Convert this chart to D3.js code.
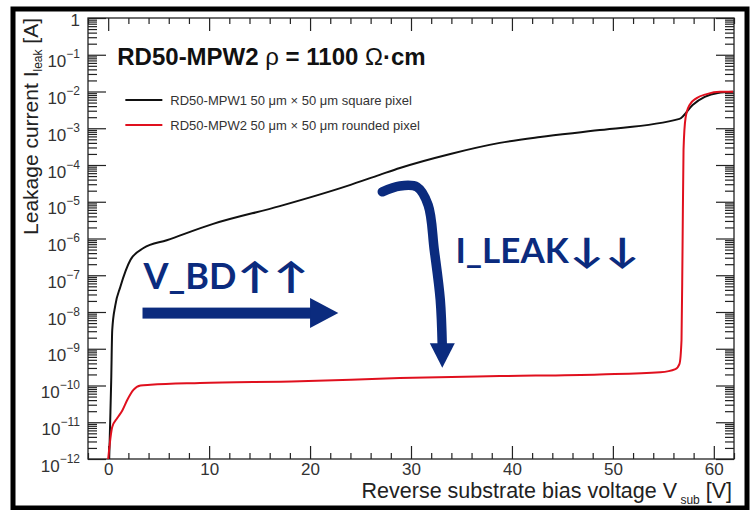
<!DOCTYPE html>
<html>
<head>
<meta charset="utf-8">
<script src="https://cdn.jsdelivr.net/npm/d3@7"></script>
<style>
  body { margin: 0; background: #fff; }
  svg { display: block; font-family: "Liberation Sans", Arial, sans-serif; }
</style>
</head>
<body>
<script>
// leakage current vs bias voltage
var mpw1Voltage = [0.1, 0.2, 0.3, 0.4, 0.7, 1.2, 2.2, 3.5, 5.8, 10.4, 17.0, 23.7, 26.9, 28.9, 33.9, 38.8, 42.8, 48.7, 56.6, 57.9, 59.1, 60.4, 61.9];
var mpw1Current = [1e-12, 1.1e-11, 1.4e-10, 3.2e-9, 1.5e-8, 4.8e-8, 2.6e-7, 5.5e-7, 9e-7, 2.5e-6, 7.6e-6, 2.7e-5, 5.4e-5, 8.3e-5, 2.0e-4, 4.0e-4, 5.8e-4, 8.9e-4, 1.8e-3, 4.3e-3, 7.1e-3, 9.1e-3, 9.8e-3];

var mpw2Voltage = [0.0, 0.4, 0.9, 1.4, 1.9, 2.5, 3.2, 4.2, 9.1, 19.0, 28.9, 38.8, 48.7, 54.7, 56.2, 56.6, 56.8, 56.9, 57.0, 57.2, 57.6, 58.3, 59.3, 60.6, 61.9];
var mpw2Current = [1e-12, 7.4e-12, 1.3e-11, 2.1e-11, 4.1e-11, 7.6e-11, 1.0e-10, 1.05e-10, 1.17e-10, 1.3e-10, 1.6e-10, 1.8e-10, 2.0e-10, 2.3e-10, 2.8e-10, 3.9e-10, 1.7e-9, 4.9e-7, 2.6e-4, 1.9e-3, 4.3e-3, 6.6e-3, 8.5e-3, 9.8e-3, 9.8e-3];

var seriesNames = ["RD50-MPW1 50 \u03bcm \u00d7 50 \u03bcm square pixel", "RD50-MPW2 50 \u03bcm \u00d7 50 \u03bcm rounded pixel"];
var seriesColors = ["#111", "#e0101e"];

var xTicks = [0, 10, 20, 30, 40, 50, 60];
var yTickExponents = [-12, -11, -10, -9, -8, -7, -6, -5, -4, -3, -2, -1, 0];

var svgWidth = 753;
var svgHeight = 510;
var margin = { top: 18, right: 19, bottom: 51, left: 88 };
var width = svgWidth - margin.left - margin.right;
var height = svgHeight - margin.top - margin.bottom;

var annoColor = "#0b2b7e";

var svg = d3.select("body").append("svg")
    .attr("width", svgWidth)
    .attr("height", svgHeight);

// outer black frame of the slide picture
svg.append("rect")
    .attr("x", 13).attr("y", 9)
    .attr("width", 734).attr("height", 499)
    .attr("fill", "none")
    .attr("stroke", "#000")
    .attr("stroke-width", 5);

var g = svg.append("g")
    .attr("transform", `translate(${margin.left},${margin.top})`);

var x = d3.scaleLinear().domain([-2, 62]).range([0, width]);
var y = d3.scaleLog().domain([1e-12, 1]).range([height, 0]);

var yMajor = yTickExponents.map(e => Math.pow(10, e));
var yMinor = [];
yTickExponents.slice(0, -1).forEach(function (e) {
    for (var k = 2; k <= 9; k++) yMinor.push(k * Math.pow(10, e));
});
var xMinor = d3.range(-2, 63, 2).filter(v => v % 10 !== 0);

function styleAxis(sel) {
    sel.select(".domain").remove();
    sel.selectAll("line").attr("stroke", "#222").attr("stroke-width", 1.2);
}

// bottom axis
g.append("g")
    .attr("transform", `translate(0,${height})`)
    .call(d3.axisBottom(x).tickValues(xMinor).tickSize(-6).tickFormat(""))
    .call(styleAxis);
g.append("g")
    .attr("transform", `translate(0,${height})`)
    .call(d3.axisBottom(x).tickValues(xTicks).tickSize(-13).tickPadding(4))
    .call(styleAxis)
    .call(s => s.selectAll("text")
        .attr("font-size", 17)
        .attr("fill", "#333")
        .attr("font-family", "Liberation Sans, Arial, sans-serif"));

// top axis (mirrored ticks)
g.append("g")
    .call(d3.axisTop(x).tickValues(xMinor).tickSize(-6).tickFormat(""))
    .call(styleAxis);
g.append("g")
    .call(d3.axisTop(x).tickValues(xTicks).tickSize(-13).tickFormat(""))
    .call(styleAxis);

// left axis
g.append("g")
    .call(d3.axisLeft(y).tickValues(yMinor).tickSize(-9).tickFormat(""))
    .call(styleAxis);
g.append("g")
    .call(d3.axisLeft(y).tickValues(yMajor).tickSize(-18).tickPadding(8).tickFormat(""))
    .call(styleAxis)
    .call(function (s) {
        s.selectAll(".tick").append("text")
            .attr("x", -8)
            .attr("text-anchor", "end")
            .attr("fill", "#333")
            .attr("font-family", "Liberation Sans, Arial, sans-serif")
            .each(function (d) {
                var t = d3.select(this);
                var e = Math.round(Math.log10(d));
                if (e === 0) {
                    t.attr("dy", 7).attr("font-size", 17).text("1");
                } else {
                    t.attr("dy", 12);
                    t.append("tspan").attr("font-size", 17).text("10");
                    t.append("tspan").attr("font-size", 12).attr("dy", -9).text("\u2212" + Math.abs(e));
                }
            });
    });

// right axis (mirrored ticks)
g.append("g")
    .attr("transform", `translate(${width},0)`)
    .call(d3.axisRight(y).tickValues(yMinor).tickSize(-9).tickFormat(""))
    .call(styleAxis);
g.append("g")
    .attr("transform", `translate(${width},0)`)
    .call(d3.axisRight(y).tickValues(yMajor).tickSize(-18).tickFormat(""))
    .call(styleAxis);

// plot frame
g.append("rect")
    .attr("width", width).attr("height", height)
    .attr("fill", "none")
    .attr("stroke", "#222")
    .attr("stroke-width", 1.3);

// curves
g.append("clipPath").attr("id", "plotclip")
    .append("rect").attr("width", width).attr("height", height);

var line = d3.line()
    .x(d => x(d[0]))
    .y(d => y(d[1]))
    .curve(d3.curveMonotoneX);

var series = [
    d3.zip(mpw1Voltage, mpw1Current),
    d3.zip(mpw2Voltage, mpw2Current)
];

g.selectAll(".curve")
    .data(series)
    .enter()
    .append("path")
    .attr("class", "curve")
    .attr("clip-path", "url(#plotclip)")
    .attr("d", line)
    .attr("fill", "none")
    .attr("stroke", (d, i) => seriesColors[i])
    .attr("stroke-width", 2);

// title
var title = g.append("text")
    .attr("x", x(0.9))
    .attr("y", 47)
    .attr("font-size", 24)
    .attr("font-weight", "bold")
    .attr("fill", "#111");
title.append("tspan").text("RD50-MPW2 ");
title.append("tspan").attr("font-weight", "normal").text("\u03c1");
title.append("tspan").text(" = 1100 ");
title.append("tspan").attr("font-weight", "normal").text(" \u03a9");
title.append("tspan").text("\u00b7cm");

// legend
var legend = g.selectAll(".legend")
    .data(seriesNames)
    .enter()
    .append("g")
    .attr("class", "legend")
    .attr("transform", (d, i) => `translate(${x(1.7)},${82 + i * 25})`);
legend.append("line")
    .attr("x1", 0).attr("x2", 37)
    .attr("stroke", (d, i) => seriesColors[i])
    .attr("stroke-width", 2);
legend.append("text")
    .attr("x", 45).attr("dy", "0.35em")
    .attr("font-size", 13)
    .attr("fill", "#333")
    .text(d => d);

// axis titles
var yTitle = svg.append("text")
    .attr("transform", `translate(38,${margin.top}) rotate(-90)`)
    .attr("text-anchor", "end")
    .attr("font-size", 21)
    .attr("fill", "#222");
yTitle.append("tspan").text("Leakage current I");
yTitle.append("tspan").attr("font-size", 12).attr("dy", 4).text("leak");
yTitle.append("tspan").attr("dy", -4).text(" [A]");

var xTitle = svg.append("text")
    .attr("x", margin.left + width - 2)
    .attr("y", 498)
    .attr("text-anchor", "end")
    .attr("font-size", 21.5)
    .attr("fill", "#222");
xTitle.append("tspan").text("Reverse substrate bias voltage V");
xTitle.append("tspan").attr("font-size", 12).attr("dy", 6).text(" sub");
xTitle.append("tspan").attr("dy", -6).text("  [V]");

// annotations (anchored in data units)
var anno = g.append("g").attr("fill", annoColor).attr("stroke", annoColor);

var vbdY = y(Math.pow(10, -8.03));
anno.append("rect")
    .attr("x", x(3.4))
    .attr("y", vbdY - 5.5)
    .attr("width", x(20.4) - x(3.4))
    .attr("height", 11)
    .attr("stroke", "none");
anno.append("path")
    .attr("stroke", "none")
    .attr("d", `M${x(20.0)},${vbdY - 15} L${x(22.8)},${vbdY} L${x(20.0)},${vbdY + 15} Z`);

function annoLabel(word, arrows, vx, logI, size) {
    var tx = x(vx), ty = y(Math.pow(10, logI));
    var t = anno.append("text")
        .attr("x", tx)
        .attr("y", ty)
        .attr("stroke", "none")
        .attr("font-family", "Lato, 'Open Sans', sans-serif")
        .attr("font-weight", "bold")
        .attr("font-size", size)
        .text(word);
    var w = t.node().getComputedTextLength();
    // arrows are wider in the original, stretch them a bit
    anno.append("text")
        .attr("transform", `translate(${tx + w + 1},${ty}) scale(1.3,1)`)
        .attr("stroke", "none")
        .attr("font-family", "Lato, 'Open Sans', sans-serif")
        .attr("font-weight", "bold")
        .attr("font-size", size)
        .attr("letter-spacing", 1)
        .text(arrows);
}

annoLabel("V_BD", "\u2191\u2191", 3.5, -7.37, 36);
annoLabel("I_LEAK", "\u2193\u2193", 34.4, -6.67, 35);

var bendPts = [[27.16, -4.73], [28.9, -4.57], [30.6, -4.6], [31.7, -5.09], [32.3, -6.3], [32.9, -7.67], [33.1, -8.95]];
var bend = d3.line()
    .x(d => x(d[0]))
    .y(d => y(Math.pow(10, d[1])))
    .curve(d3.curveCatmullRom);
anno.append("path")
    .attr("d", bend(bendPts))
    .attr("fill", "none")
    .attr("stroke-width", 9.5)
    .attr("stroke-linecap", "round");
var tipX = x(33.1), tipY = y(Math.pow(10, -9.52)), baseY = y(Math.pow(10, -8.85));
anno.append("path")
    .attr("stroke", "none")
    .attr("d", `M${tipX - 12.5},${baseY} L${tipX + 12.5},${baseY} L${tipX},${tipY} Z`);
</script>
</body>
</html>
